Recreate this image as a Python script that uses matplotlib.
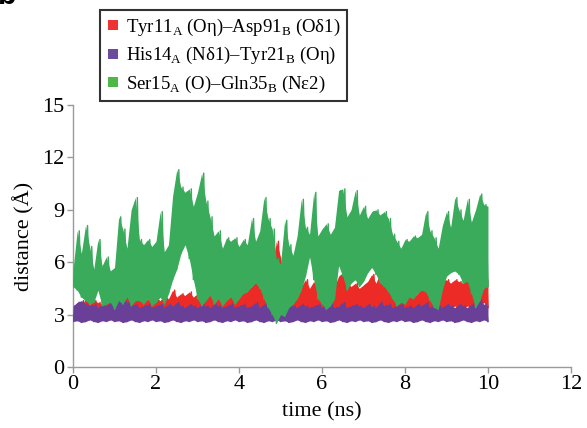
import numpy as np
import matplotlib.pyplot as plt
from matplotlib.lines import Line2D

plt.rcParams['font.family'] = ['Liberation Serif', 'DejaVu Serif']
plt.rcParams['mathtext.fontset'] = 'custom'
plt.rcParams['mathtext.rm'] = 'Liberation Serif'

# -----------------------------------------------------------------------------
# data: envelope of each trace every 0.1 ns (0 .. 10 ns)
# lower = troughs, upper = peaks of the fluctuating distance
# -----------------------------------------------------------------------------
time_ns = np.round(np.arange(0, 10.01, 0.1), 2)

green_upper = [5.6, 7.8, 6.5, 8.1, 6.9, 5.6, 7.3, 5.8, 6.3, 5.5,
               5.7, 8.6, 7.9, 6.8, 9.0, 9.7, 7.3, 7.0, 7.3, 6.9,
               7.2, 8.9, 6.6, 7.0, 9.8, 11.3, 10.3, 10.0, 10.2, 9.2,
               10.0, 11.1, 9.5, 8.6, 7.5, 7.8, 6.8, 7.4, 7.2, 7.4,
               6.9, 7.3, 7.0, 8.5, 7.2, 7.8, 9.7, 8.5, 7.9, 6.2,
               5.9, 8.4, 7.0, 6.4, 7.5, 9.6, 8.0, 7.6, 10.0, 7.5,
               7.9, 8.2, 7.6, 8.0, 10.1, 10.2, 8.6, 9.0, 10.1, 8.7,
               9.2, 8.5, 8.9, 9.0, 8.7, 8.9, 8.5, 7.6, 7.2, 6.8,
               7.3, 7.2, 7.5, 7.4, 7.6, 8.9, 7.8, 7.4, 6.8, 8.1,
               8.9, 8.0, 9.7, 9.0, 8.4, 9.6, 8.3, 9.0, 9.9, 9.3, 9.2]
green_lower = [4.6, 4.4, 4.0, 3.8, 3.6, 3.7, 4.4, 3.5, 3.6, 3.7,
               3.3, 3.8, 3.6, 4.0, 3.5, 3.8, 3.8, 3.6, 3.9, 3.5,
               3.7, 4.0, 3.6, 4.2, 5.0, 5.6, 6.5, 7.0, 6.2, 5.0,
               3.9, 3.5, 3.8, 4.1, 3.6, 3.9, 3.5, 3.8, 4.0, 3.6,
               3.9, 4.2, 4.3, 4.6, 4.8, 4.5, 3.9, 3.4, 3.0, 2.5,
               3.0, 2.9, 3.4, 3.6, 3.9, 4.4, 5.2, 6.3, 5.0, 3.9,
               3.6, 3.3, 3.5, 3.9, 5.8, 5.2, 4.4, 4.8, 5.0, 4.6,
               4.9, 5.4, 5.7, 5.3, 4.8, 4.6, 4.3, 3.9, 3.5, 3.7,
               3.6, 4.0, 3.9, 4.2, 4.4, 4.3, 3.8, 3.4, 3.3, 4.4,
               5.2, 5.4, 5.5, 5.3, 4.8, 4.9, 4.2, 3.4, 3.8, 4.5, 4.6]

red_upper = [3.4, 3.7, 3.5, 3.9, 3.6, 3.8, 3.7, 3.6, 3.9, 3.7,
             3.8, 4.3, 3.9, 4.4, 4.0, 3.8, 3.9, 3.7, 3.9, 3.8,
             4.0, 3.8, 4.1, 3.9, 4.4, 4.0, 4.2, 4.1, 4.3, 4.0,
             4.2, 4.4, 4.7, 4.2, 4.0, 4.3, 4.1, 3.9, 4.2, 4.5,
             4.9, 4.3, 4.4, 4.6, 4.9, 4.5, 5.2, 6.0, 5.6, 7.2,
             6.3, 4.5, 4.3, 4.4, 4.8, 4.6, 5.0, 4.5, 4.9, 4.4,
             4.6, 5.0, 4.8, 4.6, 5.2, 5.4, 4.9, 4.6, 4.8, 4.5,
             4.7, 4.9, 5.3, 4.8, 5.4, 5.2, 5.4, 4.9, 4.6, 4.9,
             4.5, 4.3, 4.0, 4.2, 4.6, 5.0, 4.8, 5.0, 4.4, 4.9,
             5.0, 4.8, 5.0, 4.9, 4.8, 5.0, 4.9, 4.7, 5.0, 5.9, 5.0]
red_lower = [2.7, 2.9, 2.8, 3.0, 2.8, 2.9, 3.0, 2.8, 2.9, 3.1,
             2.8, 3.0, 2.9, 3.1, 2.8, 3.0, 2.9, 2.8, 3.0, 2.9,
             3.1, 2.8, 3.0, 2.9, 3.2, 3.0, 2.9, 3.1, 3.0, 2.8,
             3.0, 3.1, 2.9, 3.2, 3.0, 2.9, 3.1, 3.0, 2.9, 3.2,
             3.3, 3.1, 3.2, 3.4, 3.3, 3.2, 3.5, 3.6, 3.4, 3.8,
             3.5, 3.1, 3.0, 3.2, 3.3, 3.1, 3.4, 3.2, 3.3, 3.1,
             3.2, 3.4, 3.3, 3.2, 3.5, 3.6, 3.4, 3.2, 3.3, 3.1,
             3.3, 3.4, 3.5, 3.3, 3.6, 3.4, 3.5, 3.3, 3.2, 3.4,
             3.1, 3.0, 2.9, 3.0, 3.2, 3.4, 3.3, 3.4, 3.1, 3.3,
             3.4, 3.3, 3.5, 3.4, 3.3, 3.5, 3.4, 3.2, 3.4, 3.7, 3.4]

purple_upper = [3.5, 3.7, 3.8, 3.6, 3.5, 3.6, 3.4, 3.6, 3.5, 3.7,
                3.6, 4.2, 4.1, 3.7, 3.5, 3.6, 3.4, 3.5, 3.6, 3.4,
                3.5, 3.6, 3.4, 3.6, 3.5, 3.7, 3.5, 3.4, 3.6, 3.5,
                3.4, 3.6, 3.5, 3.4, 3.6, 3.5, 3.4, 3.5, 3.6, 3.4,
                3.5, 3.6, 3.4, 3.5, 3.7, 3.4, 3.6, 3.5, 3.3, 3.6,
                3.5, 3.4, 3.6, 3.5, 3.4, 3.6, 3.5, 3.4, 3.5, 3.6,
                3.4, 3.5, 3.6, 3.4, 3.5, 3.7, 3.4, 3.5, 3.6, 3.5,
                3.4, 3.6, 3.5, 3.4, 3.7, 3.5, 3.6, 3.4, 3.5, 3.6,
                3.4, 3.5, 3.4, 3.6, 3.5, 3.7, 3.4, 3.6, 3.5, 3.4,
                3.6, 3.5, 3.4, 3.6, 3.5, 3.4, 3.6, 3.5, 3.8, 3.6, 3.5]
purple_lower = [2.6, 2.65, 2.55, 2.6, 2.7, 2.6, 2.55, 2.65, 2.6, 2.7,
                2.6, 2.65, 2.55, 2.6, 2.7, 2.6, 2.55, 2.65, 2.6, 2.7,
                2.6, 2.65, 2.55, 2.6, 2.7, 2.6, 2.55, 2.65, 2.6, 2.7,
                2.6, 2.65, 2.55, 2.6, 2.7, 2.6, 2.55, 2.65, 2.6, 2.7,
                2.6, 2.65, 2.55, 2.6, 2.7, 2.6, 2.55, 2.65, 2.6, 2.7,
                2.6, 2.65, 2.55, 2.6, 2.7, 2.6, 2.55, 2.65, 2.6, 2.7,
                2.6, 2.65, 2.55, 2.6, 2.7, 2.6, 2.55, 2.65, 2.6, 2.7,
                2.6, 2.65, 2.55, 2.6, 2.7, 2.6, 2.55, 2.65, 2.6, 2.7,
                2.6, 2.65, 2.55, 2.6, 2.7, 2.6, 2.55, 2.65, 2.6, 2.7,
                2.6, 2.65, 2.55, 2.6, 2.7, 2.6, 2.55, 2.65, 2.6, 2.7, 2.6]

labels = [r'Tyr11$_\mathrm{A}$ (Oη)–Asp91$_\mathrm{B}$ (Oδ1)',
          r'His14$_\mathrm{A}$ (Nδ1)–Tyr21$_\mathrm{B}$ (Oη)',
          r'Ser15$_\mathrm{A}$ (O)–Gln35$_\mathrm{B}$ (Nε2)']
colors = ['#ec2b27', '#6a3f98', '#3aaa5b']
legend_colors = ['#ee3333', '#6b4c9a', '#4db848']


def trace(lower, upper):
    # zigzag between troughs and peaks so the trace looks like the raw MD signal
    t = np.empty(2 * len(time_ns) - 1)
    d = np.empty_like(t)
    t[0::2] = time_ns
    t[1::2] = time_ns[:-1] + 0.05
    d[0::2] = lower
    d[1::2] = upper[:-1]
    return t, d


fig = plt.figure(figsize=(5.87, 4.28), dpi=100)
ax = fig.add_axes([0.1244, 0.1425, 0.8483, 0.6122])

series = [(red_lower, red_upper), (purple_lower, purple_upper), (green_lower, green_upper)]
for i, (lo, up) in enumerate(series):
    ax.fill_between(time_ns, lo, up, color=colors[i], lw=0, zorder=2 + i)
    t, d = trace(lo, up)
    ax.plot(t, d, color=colors[i], lw=1.0, zorder=2 + i)

ax.set_xlim(0, 12)
ax.set_ylim(0, 15)
ax.set_xticks(range(0, 13, 2))
ax.set_yticks(range(0, 16, 3))
for s in ['top', 'right']:
    ax.spines[s].set_visible(False)
for s in ['left', 'bottom']:
    ax.spines[s].set_color('#9a9a9a')
    ax.spines[s].set_linewidth(1.0)
ax.tick_params(direction='out', length=4, width=1.0, color='#9a9a9a', labelsize=16, pad=2)
ax.set_xlabel('time (ns)', fontsize=16, labelpad=6)
ax.set_ylabel('distance (Å)', fontsize=16, labelpad=6)

handles = [Line2D([], [], ls='none', marker='s', markersize=7, color=c, markeredgewidth=0)
           for c in legend_colors]
leg = fig.legend(handles, labels, loc='upper left', bbox_to_anchor=(0.170, 0.977),
                 fontsize=13.5, frameon=True, fancybox=False, borderpad=0.35,
                 labelspacing=0.4, handlelength=0.7, handletextpad=0.35, borderaxespad=0)
leg.get_frame().set_edgecolor('black')
leg.get_frame().set_linewidth(1.5)

# cut-off panel letter in the top left corner
fig.text(-0.004, 1 - 4 / 428, 'b', fontsize=22, fontweight='bold', family='Liberation Sans',
         ha='left', va='baseline')

plt.savefig('out.png', dpi=100)
